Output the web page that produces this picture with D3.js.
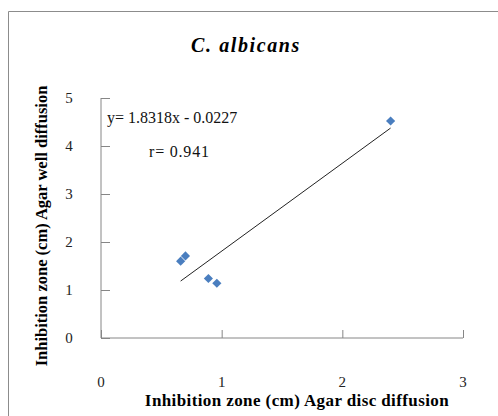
<!DOCTYPE html>
<html>
<head>
<meta charset="utf-8">
<script src="https://cdn.jsdelivr.net/npm/d3@7"></script>
<style>
  body { margin: 0; background: #fff; }
  svg { display: block; font-family: 'Liberation Serif', 'Times New Roman', serif; }
</style>
</head>
<body>
<div id="chart"></div>
<script>
// data
var discDiffusion = [0.66, 0.70, 0.89, 0.96, 2.40]
var wellDiffusion = [1.60, 1.71, 1.24, 1.14, 4.52]
var xTicks = [0, 1, 2, 3]
var yTicks = [0, 1, 2, 3, 4, 5]
var slope = 1.8318
var intercept = -0.0227
var titleText = 'C. albicans'
var equationText = 'y= 1.8318x - 0.0227'
var rText = 'r= 0.941'
var xLabel = 'Inhibition zone (cm) Agar disc diffusion'
var yLabel = 'Inhibition zone (cm) Agar well diffusion'

var width = 498
var height = 416
var margin = { top: 98, right: 35, bottom: 78, left: 101 }

var svg = d3
  .select('#chart')
  .append('svg')
  .attr('width', width)
  .attr('height', height)

// outer chart frame (runs off the right and bottom edges)
svg
  .append('path')
  .attr('d', 'M8.5,' + height + 'V11.5H' + width)
  .attr('fill', 'none')
  .attr('stroke', '#8c8c8c')
  .attr('stroke-width', 1)

var x = d3
  .scaleLinear()
  .domain([0, 3])
  .range([margin.left, width - margin.right])

var y = d3
  .scaleLinear()
  .domain([0, 5])
  .range([height - margin.bottom, margin.top])

var axisColor = '#868686'

// x axis with ticks pointing up
var xAxis = svg
  .append('g')
  .attr('transform', 'translate(0,' + y(0) + ')')
  .call(d3.axisTop(x).tickValues(xTicks).tickSize(8).tickFormat(''))
xAxis.select('.domain').attr('d', 'M' + x(0) + ',0H' + x(3)).attr('stroke', axisColor)
xAxis.selectAll('.tick line').attr('stroke', axisColor)

// y axis with ticks pointing right
var yAxis = svg
  .append('g')
  .attr('transform', 'translate(' + x(0) + ',0)')
  .call(d3.axisRight(y).tickValues(yTicks).tickSize(9).tickFormat(''))
yAxis.select('.domain').attr('d', 'M0,' + y(0) + 'V' + y(5)).attr('stroke', axisColor)
yAxis.selectAll('.tick line').attr('stroke', axisColor)

// tick labels, set well away from the axes
svg
  .selectAll('.x-label')
  .data(xTicks)
  .enter()
  .append('text')
  .attr('class', 'x-label')
  .attr('x', d => x(d))
  .attr('y', 387)
  .attr('text-anchor', 'middle')
  .style('font-size', '15px')
  .style('fill', '#222')
  .text(d => d)

svg
  .selectAll('.y-label')
  .data(yTicks)
  .enter()
  .append('text')
  .attr('class', 'y-label')
  .attr('x', 69)
  .attr('y', d => y(d) + 5)
  .attr('text-anchor', 'middle')
  .style('font-size', '15px')
  .style('fill', '#222')
  .text(d => d)

// trendline across the data range
var xMin = d3.min(discDiffusion)
var xMax = d3.max(discDiffusion)
svg
  .append('line')
  .attr('x1', x(xMin))
  .attr('y1', y(slope * xMin + intercept))
  .attr('x2', x(xMax))
  .attr('y2', y(slope * xMax + intercept))
  .attr('stroke', '#222')
  .attr('stroke-width', 1)

// diamond markers
var points = discDiffusion.map((d, i) => ({ x: d, y: wellDiffusion[i] }))
svg
  .selectAll('.point')
  .data(points)
  .enter()
  .append('path')
  .attr('class', 'point')
  .attr('d', d3.symbol().type(d3.symbolSquare).size(42))
  .attr('transform', d => 'translate(' + x(d.x) + ',' + y(d.y) + ') rotate(45)')
  .attr('fill', '#4a7ebf')

// equation and r
svg
  .append('text')
  .attr('x', 107)
  .attr('y', 123)
  .style('font-size', '16px')
  .style('fill', '#111')
  .text(equationText)

svg
  .append('text')
  .attr('x', 149)
  .attr('y', 157)
  .style('font-size', '16px')
  .style('letter-spacing', '0.8px')
  .style('fill', '#111')
  .text(rText)

// title
svg
  .append('text')
  .attr('x', 246)
  .attr('y', 52)
  .attr('text-anchor', 'middle')
  .style('font-size', '20px')
  .style('letter-spacing', '1.6px')
  .style('font-weight', 'bold')
  .style('font-style', 'italic')
  .text(titleText)

// axis titles
svg
  .append('text')
  .attr('x', 297)
  .attr('y', 406)
  .attr('text-anchor', 'middle')
  .style('font-size', '17px')
  .style('letter-spacing', '0.4px')
  .style('font-weight', 'bold')
  .text(xLabel)

svg
  .append('text')
  .attr('transform', 'translate(47,226) rotate(-90)')
  .attr('text-anchor', 'middle')
  .style('font-size', '16.5px')
  .style('font-weight', 'bold')
  .text(yLabel)
</script>
</body>
</html>
